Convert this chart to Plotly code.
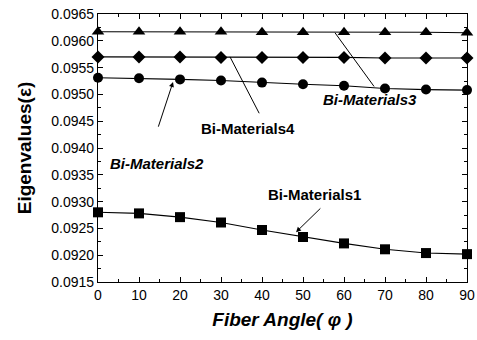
import plotly.graph_objects as go

angles = [0, 10, 20, 30, 40, 50, 60, 70, 80, 90]
bm1 = [0.09280, 0.09278, 0.09271, 0.09261, 0.09247, 0.09234, 0.09222, 0.09211, 0.09204, 0.09202]
bm2 = [0.09531, 0.09530, 0.09528, 0.09526, 0.09522, 0.09519, 0.09516, 0.09511, 0.09509, 0.09508]
bm3 = [0.09617, 0.09617, 0.09617, 0.09617, 0.09616, 0.09616, 0.09616, 0.09616, 0.09616, 0.09615]
bm4 = [0.09570, 0.09570, 0.09570, 0.09569, 0.09569, 0.09569, 0.09569, 0.09568, 0.09568, 0.09568]

series = [("Bi-Materials1", bm1, "square"), ("Bi-Materials2", bm2, "circle"),
          ("Bi-Materials3", bm3, "triangle-up"), ("Bi-Materials4", bm4, "diamond")]

fig = go.Figure()
for name, vals, sym in series:
    fig.add_trace(go.Scatter(x=angles, y=vals, mode="lines+markers", name=name,
                             line=dict(color="black", width=1.1),
                             marker=dict(symbol=sym, size=11 if sym == "triangle-up" else 10, color="black"),
                             cliponaxis=False))

afont = dict(family="Liberation Sans, Arial", size=15, color="black")

def pointer(x, y, ax, ay, head=True):
    fig.add_annotation(x=x, y=y, ax=ax, ay=ay, xref="x", yref="y", axref="x", ayref="y",
                       text="", showarrow=True, arrowhead=2 if head else 0, arrowsize=1,
                       arrowwidth=1, arrowcolor="black")

def label(text, x, y, italic):
    t = "<b><i>%s</i></b>" % text if italic else "<b>%s</b>" % text
    fig.add_annotation(x=x, y=y, xref="x", yref="y", text=t, showarrow=False, font=afont)

label("Bi-Materials3", 66.3, 0.09490, True)
pointer(57.8, 0.09615, 67.6, 0.09512, head=False)
label("Bi-Materials4", 36.6, 0.09437, False)
pointer(32.2, 0.09570, 39.5, 0.09462, head=False)
label("Bi-Materials2", 14.4, 0.09372, True)
pointer(18.3, 0.09523, 14.6, 0.09437)
label("Bi-Materials1", 52.7, 0.09314, False)
pointer(48.3, 0.09243, 54.6, 0.09290)

fig.update_layout(
    width=477, height=340, margin=dict(l=98, r=10, t=14, b=58),
    paper_bgcolor="white", plot_bgcolor="white", showlegend=False,
    font=dict(family="Liberation Sans, Arial", size=14, color="black"),
)
fig.update_xaxes(range=[0, 90], tickmode="linear", tick0=0, dtick=10, automargin=False,
                 ticks="inside", ticklen=5, tickcolor="black", mirror="ticks",
                 showline=True, linecolor="black", linewidth=1.2, showgrid=False, zeroline=False,
                 minor=dict(dtick=5, ticks="inside", ticklen=3, tickcolor="black", showgrid=False),
                 tickfont=dict(size=14),
                 title=dict(text="<b><i>Fiber Angle( φ )</i></b>", font=dict(size=19), standoff=10))
fig.update_yaxes(range=[0.0915, 0.0965], tickmode="linear", tick0=0.0915, dtick=0.0005,
                 tickformat=".4f", automargin=False,
                 ticks="inside", ticklen=5, tickcolor="black", mirror="ticks",
                 showline=True, linecolor="black", linewidth=1.2, showgrid=False, zeroline=False,
                 minor=dict(dtick=0.00025, ticks="inside", ticklen=3, tickcolor="black", showgrid=False),
                 tickfont=dict(size=14),
                 title=dict(text="<b>Eigenvalues(ε)</b>", font=dict(size=19), standoff=14))

fig.write_html("out.html")
